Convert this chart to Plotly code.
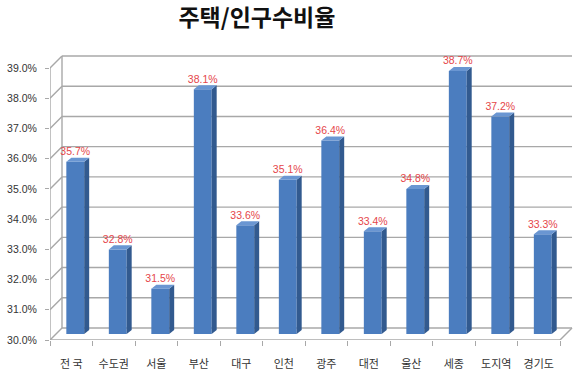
import plotly.graph_objects as go

# ---- data ----
categories = ["전 국", "수도권", "서울", "부산", "대구", "인천", "광주", "대전", "울산", "세종", "도지역", "경기도"]
values = [35.7, 32.8, 31.5, 38.1, 33.6, 35.1, 36.4, 33.4, 34.8, 38.7, 37.2, 33.3]
y_ticks = [30, 31, 32, 33, 34, 35, 36, 37, 38, 39]
title_text = "주택/인구수비율"

# ---- 3D look parameters (pixel -> axis units) ----
PX_X = 42.5   # px per category
PX_Y = 30.2   # px per 1 %
WALL_DX = 12 / PX_X
WALL_DY = 12 / PX_Y
BAR_SHIFT_X = 4 / PX_X
BAR_SHIFT_Y = 6 / PX_Y
BAR_W = 0.42
DEPTH_X = 5 / PX_X
DEPTH_Y = 4 / PX_Y

positions = list(range(len(categories)))
x_lo, x_hi = -0.5, len(categories) - 0.5
base = y_ticks[0] + BAR_SHIFT_Y

grid_col = "#A8A8A8"
front_col = "#4B7DBF"
side_col = "#325A8F"
top_col = "#6A96D2"
label_col = "#E5464A"

fig = go.Figure()

# front faces of the bars
fig.add_trace(go.Bar(
    x=[p + BAR_SHIFT_X for p in positions],
    y=[v - y_ticks[0] for v in values],
    base=base,
    width=BAR_W,
    marker=dict(color=front_col, line=dict(width=0)),
    hoverinfo="skip",
))

# side faces and top faces (derived from values)
sx, sy, tx, ty = [], [], [], []
for p, v in zip(positions, values):
    xl = p + BAR_SHIFT_X - BAR_W / 2
    xr = p + BAR_SHIFT_X + BAR_W / 2
    yt = v + BAR_SHIFT_Y
    sx += [xr, xr + DEPTH_X, xr + DEPTH_X, xr, xr, None]
    sy += [base, base + DEPTH_Y, yt + DEPTH_Y, yt, base, None]
    tx += [xl, xl + DEPTH_X, xr + DEPTH_X, xr, xl, None]
    ty += [yt, yt + DEPTH_Y, yt + DEPTH_Y, yt, yt, None]
fig.add_trace(go.Scatter(x=sx, y=sy, mode="lines", fill="toself", fillcolor=side_col,
                         line=dict(width=0, color=side_col), hoverinfo="skip"))
fig.add_trace(go.Scatter(x=tx, y=ty, mode="lines", fill="toself", fillcolor=top_col,
                         line=dict(width=0, color=top_col), hoverinfo="skip"))

# value labels
fig.add_trace(go.Scatter(
    x=[p + BAR_SHIFT_X for p in positions],
    y=[v + BAR_SHIFT_Y + DEPTH_Y for v in values],
    mode="text",
    text=[f"{v:.1f}%" for v in values],
    textposition="top center",
    textfont=dict(family="Liberation Sans, Arial, sans-serif", size=10.5, color=label_col),
    hoverinfo="skip", cliponaxis=False,
))

# walls / gridlines
shapes = []
line = dict(color=grid_col, width=1.4)
for v in y_ticks:
    shapes.append(dict(type="line", xref="x", yref="y", x0=x_lo + WALL_DX, y0=v + WALL_DY,
                       x1=x_hi + WALL_DX, y1=v + WALL_DY, line=line, layer="below"))
    shapes.append(dict(type="line", xref="x", yref="y", x0=x_lo, y0=v,
                       x1=x_lo + WALL_DX, y1=v + WALL_DY, line=line, layer="below"))
shapes.append(dict(type="line", xref="x", yref="y", x0=x_lo + WALL_DX, y0=y_ticks[0] + WALL_DY,
                   x1=x_lo + WALL_DX, y1=y_ticks[-1] + WALL_DY, line=line, layer="below"))
shapes.append(dict(type="line", xref="x", yref="y", x0=x_lo, y0=y_ticks[0],
                   x1=x_lo, y1=y_ticks[-1], line=line, layer="below"))
shapes.append(dict(type="line", xref="x", yref="y", x0=x_lo, y0=y_ticks[0],
                   x1=x_hi, y1=y_ticks[0], line=line, layer="below"))
shapes.append(dict(type="line", xref="x", yref="y", x0=x_hi, y0=y_ticks[0],
                   x1=x_hi + WALL_DX, y1=y_ticks[0] + WALL_DY, line=line, layer="below"))

fig.update_layout(
    width=580, height=377,
    margin=dict(l=50, r=5, t=50, b=37),
    paper_bgcolor="white", plot_bgcolor="white",
    showlegend=False,
    shapes=shapes,
    title=dict(text=f"<b>{title_text}</b>", x=0.443, xref="container", xanchor="center",
               y=0.952, yref="container", yanchor="middle",
               font=dict(family="Noto Sans CJK KR", size=23, color="#111111")),
    font=dict(family="Noto Sans CJK KR", color="#333333"),
    xaxis=dict(
        range=[x_lo, x_hi + WALL_DX + 0.07],
        tickvals=positions, ticktext=categories,
        ticks="", showgrid=False, zeroline=False, showline=False,
        tickfont=dict(family="Noto Sans CJK KR", size=11, color="#333333"),
        ticklabelstandoff=16,
        minor=dict(tickvals=[p - 0.5 for p in positions] + [x_hi], ticks="outside",
                   ticklen=5, tickcolor=grid_col, tickwidth=1.3, showgrid=False),
        fixedrange=True,
    ),
    yaxis=dict(
        range=[y_ticks[0], y_ticks[-1] + 18 / PX_Y],
        tickvals=y_ticks, ticktext=[f"{v:.1f}%" for v in y_ticks],
        ticks="outside", ticklen=4, tickcolor=grid_col, tickwidth=1.3,
        showgrid=False, zeroline=False, showline=False,
        tickfont=dict(family="Liberation Sans, Arial, sans-serif", size=10.5, color="#333333"),
        ticklabelstandoff=6,
        fixedrange=True,
    ),
)

fig.write_html("out.html", config={"displayModeBar": False},
               post_script="document.body.style.margin='0';")
